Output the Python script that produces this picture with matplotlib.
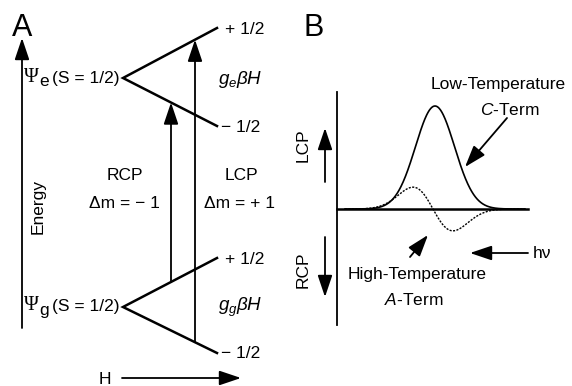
import numpy as np
import matplotlib.pyplot as plt

plt.rcParams['font.family'] = ['Liberation Sans', 'DejaVu Sans']
plt.rcParams['mathtext.fontset'] = 'custom'
plt.rcParams['mathtext.rm'] = 'Liberation Sans'
plt.rcParams['mathtext.it'] = 'Liberation Sans:italic'

# Zeeman diagram: zero-field level heights and split ends (+1/2, -1/2)
state_names = ['e', 'g']
level_y = [78, 307]
split_up = [28, 258]
split_down = [126, 353]
split_labels = [r'$g_e\beta H$', r'$g_g\beta H$']

# MCD bands (panel B): centre, width, height
c_term = (435, 19.5, 103)
a_term = (433, 20, 36)

fig = plt.figure(figsize=(5.72, 3.86), dpi=100)
ax = fig.add_axes([0, 0, 1, 1])
ax.set_xlim(0, 572)
ax.set_ylim(386, 0)
ax.axis('off')

fs = 12.5
k = 'black'


def arrow(x0, y0, x1, y1, lw=1.3, hl=0.95, hw=0.32, ms=14):
    ax.annotate('', xy=(x1, y1), xytext=(x0, y0),
                arrowprops=dict(arrowstyle=f'-|>,head_length={hl},head_width={hw}',
                                lw=lw, color=k, mutation_scale=ms,
                                shrinkA=0, shrinkB=0))


# ---- panel A ----
ax.text(22, 28, 'A', fontsize=22, ha='center', va='center')
arrow(22, 328, 22, 38)
ax.text(38, 207, 'Energy', rotation=90, fontsize=fs, ha='center', va='center')

x_v, x_end = 123, 217
for name, y0, yu, yd, glab in zip(state_names, level_y, split_up, split_down, split_labels):
    ax.plot([x_end, x_v, x_end], [yu, y0, yd], color=k, lw=1.8, solid_joinstyle='miter')
    ax.text(24, y0 - 1, '\u03a8', fontsize=fs + 2, family=['Liberation Serif'], ha='left', va='center')
    ax.text(39, y0 + 4, name, fontsize=fs, ha='left', va='center')
    ax.text(120, y0, '(S = 1/2)', fontsize=fs, ha='right', va='center')
    ax.text(x_end + 8, yu + 1, '+ 1/2', fontsize=fs, ha='left', va='center')
    ax.text(x_end + 4, yd + 1, '\u2212 1/2', fontsize=fs, ha='left', va='center')
    ax.text(240, (yu + yd) / 2 + 2, glab, fontsize=fs + 1, ha='center', va='center')


def on_branch(x, y0, y1):
    return y0 + (y1 - y0) * (x - x_v) / (x_end - x_v)


# RCP: ground +1/2 -> excited -1/2 ; LCP: ground -1/2 -> excited +1/2
x_r, x_l = 171, 195
arrow(x_r, on_branch(x_r, level_y[1], split_up[1]), x_r, on_branch(x_r, level_y[0], split_down[0]))
arrow(x_l, on_branch(x_l, level_y[1], split_down[1]), x_l, on_branch(x_l, level_y[0], split_up[0]))

ax.text(125, 175, 'RCP', fontsize=fs, ha='center', va='center')
ax.text(124, 203, '\u0394m = \u2212 1', fontsize=fs, ha='center', va='center')
ax.text(241, 175, 'LCP', fontsize=fs, ha='center', va='center')
ax.text(240, 203, '\u0394m = + 1', fontsize=fs, ha='center', va='center')

ax.text(105, 379, 'H', fontsize=fs, ha='center', va='center')
arrow(122, 378, 241, 378)

# ---- panel B ----
ax.text(314, 28, 'B', fontsize=22, ha='center', va='center')
base = 209
ax.plot([336.5, 336.5], [92, 325], color=k, lw=1.3)
ax.plot([336.5, 528], [base, base], color=k, lw=1.8)

x = np.linspace(345, 525, 400)
c0, cw, ch = c_term
ax.plot(x, base - ch * np.exp(-(x - c0) ** 2 / (2 * cw ** 2)), color=k, lw=1.2)
a0, aw, ah = a_term
u = (x - a0) / aw
ax.plot(x, base + ah * u * np.exp(-u ** 2 / 2), color=k, lw=1.0, ls=(0, (1.5, 1)))

arrow(325, 182, 325, 128)
ax.text(303, 145, 'LCP', rotation=90, fontsize=fs, ha='center', va='center')
arrow(325, 237, 325, 297)
ax.text(303, 270, 'RCP', rotation=90, fontsize=fs, ha='center', va='center')

ax.text(498, 85, 'Low-Temperature', fontsize=fs, ha='center', va='center')
ax.text(510, 110, r'$C$-Term', fontsize=fs, ha='center', va='center')
arrow(507, 118, 465, 167)

ax.text(417, 275, 'High-Temperature', fontsize=fs, ha='center', va='center')
ax.text(414, 300, r'$A$-Term', fontsize=fs, ha='center', va='center')
arrow(410, 257, 428, 235)

arrow(528, 253, 470, 253)
ax.text(533, 253, 'h\u03bd', fontsize=fs, ha='left', va='center')

fig.savefig('out.png', dpi=100)
